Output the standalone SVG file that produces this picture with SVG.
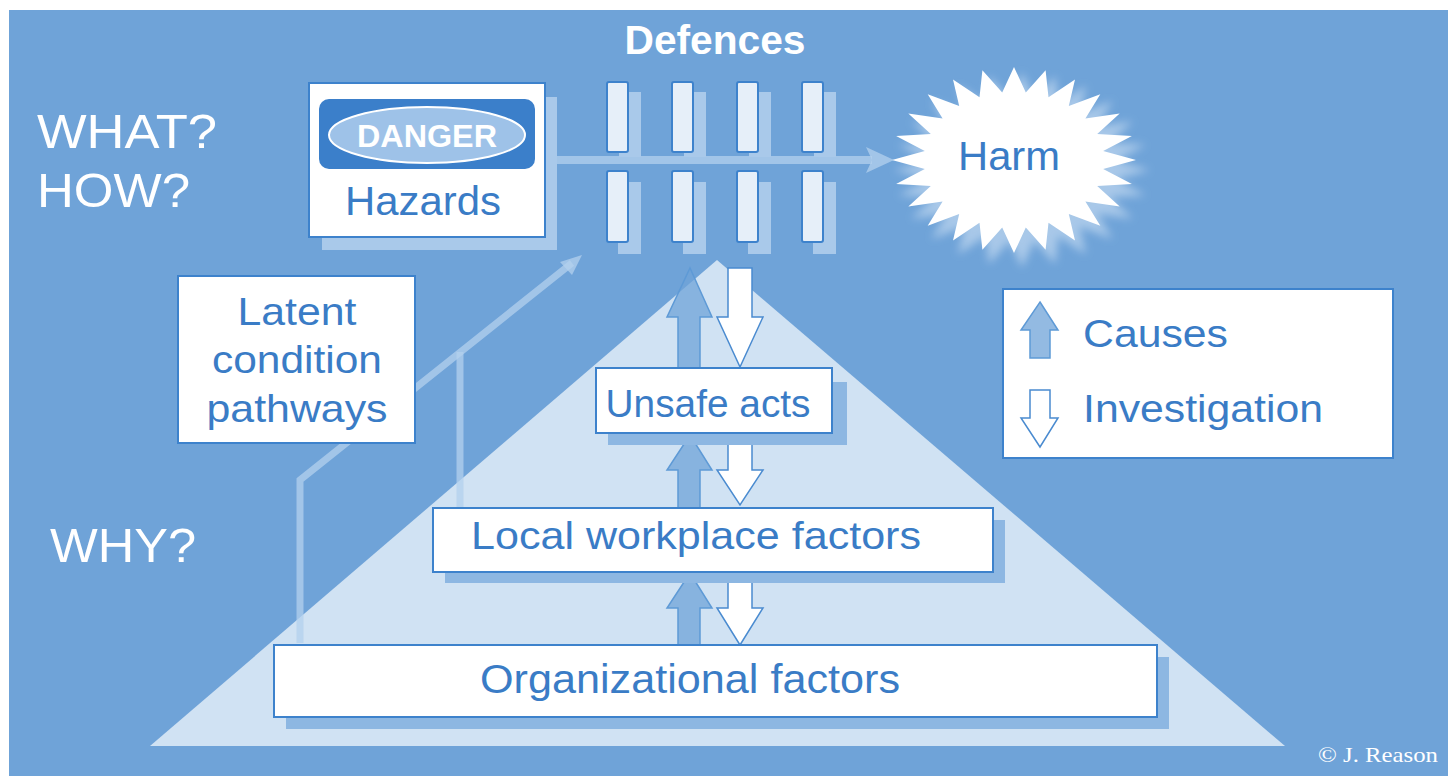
<svg xmlns="http://www.w3.org/2000/svg" width="1450" height="776" viewBox="0 0 1450 776">
<defs>
<style>
.t{font-family:"Liberation Sans",Arial,sans-serif;fill:#3a7cc6}
.w{font-family:"Liberation Sans",Arial,sans-serif;fill:#ffffff}
.box{fill:#ffffff;stroke:#3d82cc;stroke-width:2}
.sh{fill:#8db7e2}
.bar{fill:#e6eff9;stroke:#3d82cc;stroke-width:2}
.barsh{fill:#a9c9ea}
.up{fill:#6fa3d8;fill-opacity:0.75;stroke:#5e9ad6;stroke-width:1.5}
.down{fill:#ffffff;stroke:#4a8bd0;stroke-width:1.5}
.path{fill:none;stroke:#b3d0ee;stroke-opacity:0.75;stroke-width:7}
</style>
<filter id="blur" x="-20%" y="-20%" width="140%" height="140%"><feGaussianBlur stdDeviation="4"/></filter>
<polygon id="star" points="122,0 89.2,8.9 117.9,24.1 83.2,26 105.7,46.5 71.4,41.4 86.3,65.8 54.8,53.9 61,80.5 34.5,62.8 31.6,89.8 11.8,67.4 0,93 -11.8,67.4 -31.6,89.8 -34.5,62.8 -61,80.5 -54.8,53.9 -86.3,65.8 -71.4,41.4 -105.7,46.5 -83.2,26 -117.9,24.1 -89.2,8.9 -122,0 -89.2,-8.9 -117.9,-24.1 -83.2,-26 -105.7,-46.5 -71.4,-41.4 -86.3,-65.8 -54.8,-53.9 -61,-80.5 -34.5,-62.8 -31.6,-89.8 -11.8,-67.4 0,-93 11.8,-67.4 31.6,-89.8 34.5,-62.8 61,-80.5 54.8,-53.9 86.3,-65.8 71.4,-41.4 105.7,-46.5 83.2,-26 117.9,-24.1 89.2,-8.9"/>
</defs>
<rect x="0" y="0" width="1450" height="776" fill="#ffffff"/>
<rect x="9" y="10" width="1439" height="766" fill="#6fa3d8"/>

<g id="pyramid">
<polygon points="717,260 1285,746 150,746" fill="#d0e2f3"/>
</g>

<g id="connectors">
<polyline class="path" points="300,643 300,480 572,263"/>
<polygon points="582,255 560,262 572,275" fill="#b3d0ee" fill-opacity="0.75"/>
<polyline class="path" points="460,507 460,352"/>
<line x1="545" y1="160" x2="872" y2="160" stroke="#b3d0ee" stroke-opacity="0.75" stroke-width="8"/>
<polygon points="894,160 866,147 872,160 866,173" fill="#b3d0ee" fill-opacity="0.75"/>
<polygon class="up" points="690,268 712,317 700,317 700,368 678,368 678,317 667,317"/>
<polygon class="down" points="728,268 752,268 752,317 763,317 740,367 717,317 728,317"/>
<polygon class="up" points="690,435 712,470 700,470 700,508 678,508 678,470 667,470"/>
<polygon class="down" points="728,433 752,433 752,470 763,470 740,505 717,470 728,470"/>
<polygon class="up" points="690,573 712,608 700,608 700,645 678,645 678,608 667,608"/>
<polygon class="down" points="728,572 752,572 752,608 763,608 740,645 717,608 728,608"/>
</g>

<g id="labels">
<text class="w" x="715" y="54" font-size="40" font-weight="bold" text-anchor="middle" textLength="181" lengthAdjust="spacingAndGlyphs">Defences</text>
<text class="w" x="37" y="148" font-size="48" textLength="180" lengthAdjust="spacingAndGlyphs">WHAT?</text>
<text class="w" x="37" y="207" font-size="48" textLength="153" lengthAdjust="spacingAndGlyphs">HOW?</text>
<text class="w" x="50" y="562" font-size="48" textLength="146" lengthAdjust="spacingAndGlyphs">WHY?</text>
<text x="1318" y="762" font-family="'Liberation Serif','Times New Roman',serif" font-size="22" fill="#ffffff" textLength="120" lengthAdjust="spacingAndGlyphs">© J. Reason</text>
</g>

<g id="hazards">
<rect x="322" y="97" width="235" height="153" fill="#a9c9ea"/>
<rect class="box" x="309" y="83" width="236" height="154"/>
<rect x="319" y="99" width="216" height="70" rx="10" fill="#3b7fca"/>
<ellipse cx="427" cy="135" rx="98" ry="28" fill="#9ec2e8" stroke="#ffffff" stroke-width="2"/>
<text class="w" x="427" y="147" font-size="31" font-weight="bold" text-anchor="middle" textLength="140" lengthAdjust="spacingAndGlyphs">DANGER</text>
<text class="t" x="423" y="215" font-size="41" text-anchor="middle" textLength="156" lengthAdjust="spacingAndGlyphs">Hazards</text>
</g>

<g id="defences">
<rect class="barsh" x="619" y="92" width="22" height="65"/>
<rect class="barsh" x="684" y="92" width="22" height="65"/>
<rect class="barsh" x="749" y="92" width="22" height="65"/>
<rect class="barsh" x="814" y="92" width="22" height="65"/>
<rect class="barsh" x="618" y="182" width="23" height="72"/>
<rect class="barsh" x="683" y="182" width="23" height="72"/>
<rect class="barsh" x="748" y="182" width="23" height="72"/>
<rect class="barsh" x="813" y="182" width="23" height="72"/>
<rect class="bar" x="607" y="82" width="21" height="70" rx="2"/>
<rect class="bar" x="672" y="82" width="21" height="70" rx="2"/>
<rect class="bar" x="737" y="82" width="21" height="70" rx="2"/>
<rect class="bar" x="802" y="82" width="21" height="70" rx="2"/>
<rect class="bar" x="607" y="171" width="21" height="71" rx="2"/>
<rect class="bar" x="672" y="171" width="21" height="71" rx="2"/>
<rect class="bar" x="737" y="171" width="21" height="71" rx="2"/>
<rect class="bar" x="802" y="171" width="21" height="71" rx="2"/>
</g>

<g id="harm">
<use href="#star" transform="translate(1022,170) scale(1.05)" fill="#cfe1f4" opacity="0.6" filter="url(#blur)"/>
<use href="#star" transform="translate(1014,160)" fill="#ffffff"/>
<text class="t" x="1009" y="170" font-size="40" text-anchor="middle" textLength="102" lengthAdjust="spacingAndGlyphs">Harm</text>
</g>

<g id="latent">
<rect class="box" x="178" y="276" width="237" height="167"/>
<text class="t" x="297" y="325" font-size="39" text-anchor="middle" textLength="119" lengthAdjust="spacingAndGlyphs">Latent</text>
<text class="t" x="297" y="373" font-size="39" text-anchor="middle" textLength="170" lengthAdjust="spacingAndGlyphs">condition</text>
<text class="t" x="297" y="422" font-size="39" text-anchor="middle" textLength="181" lengthAdjust="spacingAndGlyphs">pathways</text>
</g>

<g id="unsafe">
<rect class="sh" x="608" y="382" width="239" height="63"/>
<rect class="box" x="596" y="368" width="236" height="65"/>
<text class="t" x="708" y="417" font-size="38" text-anchor="middle" textLength="205" lengthAdjust="spacingAndGlyphs">Unsafe acts</text>
</g>

<g id="local">
<rect class="sh" x="445" y="520" width="560" height="63"/>
<rect class="box" x="433" y="508" width="560" height="64"/>
<text class="t" x="696" y="549" font-size="39" text-anchor="middle" textLength="450" lengthAdjust="spacingAndGlyphs">Local workplace factors</text>
</g>

<g id="organizational">
<rect class="sh" x="286" y="657" width="883" height="72"/>
<rect class="box" x="274" y="645" width="883" height="72"/>
<text class="t" x="690" y="693" font-size="40" text-anchor="middle" textLength="420" lengthAdjust="spacingAndGlyphs">Organizational factors</text>
</g>

<g id="legend">
<rect class="box" x="1003" y="289" width="390" height="169" stroke-width="3"/>
<polygon class="up" points="1040,302 1058,330 1050,330 1050,358 1030,358 1030,330 1021,330"/>
<polygon class="down" points="1030,390 1050,390 1050,418 1058,418 1040,447 1021,418 1030,418"/>
<text class="t" x="1083" y="347" font-size="38" textLength="145" lengthAdjust="spacingAndGlyphs">Causes</text>
<text class="t" x="1083" y="422" font-size="38" textLength="240" lengthAdjust="spacingAndGlyphs">Investigation</text>
</g>
</svg>
